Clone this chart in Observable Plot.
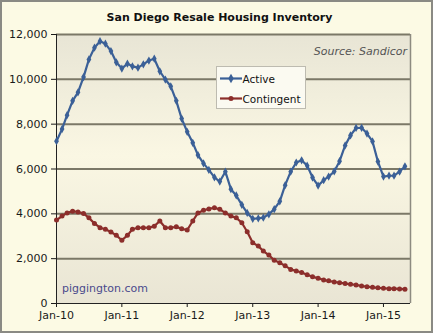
<!DOCTYPE html>
<html><head><meta charset="utf-8">
<script src="https://cdn.jsdelivr.net/npm/d3@7"></script>
<script src="https://cdn.jsdelivr.net/npm/@observablehq/plot@0.6"></script>
<style>
html,body{margin:0;padding:0;background:#fff;}
#wrap{position:relative;width:433px;height:333px;background:#fcfae4;font-family:"DejaVu Sans",Verdana,sans-serif;overflow:hidden;}
#wrap svg.plot{position:absolute;left:0;top:0;}
#border{position:absolute;left:0;top:0;width:433px;height:333px;box-sizing:border-box;border:2px solid #8a8a84;pointer-events:none;}
#title{position:absolute;left:3px;width:433px;top:11px;line-height:13px;text-align:center;font-weight:bold;font-size:11px;color:#111;}
#source{position:absolute;right:26px;top:45px;line-height:13px;font-style:italic;font-size:11px;color:#555;}
#credit{position:absolute;left:62px;top:282px;line-height:13px;font-size:11px;color:#4a4a8c;}
#legend{position:absolute;left:216px;top:66px;}
</style>
</head><body>
<div id="wrap">
  <div id="chart"></div>
  <div id="title">San Diego Resale Housing Inventory</div>
  <div id="source">Source: Sandicor</div>
  <div id="credit">piggington.com</div>
  <svg id="legend" width="91" height="43"></svg>
  <div id="border"></div>
</div>
<script>
// ---- data (monthly, Jan-2010 .. May-2015) ----
const startMonth = "2010-01";
const active = [7240,7780,8400,9040,9420,10100,10890,11410,11700,11590,
  11260,10760,10480,10700,10580,10520,10670,10840,10920,10360,
  9990,9690,9040,8250,7660,7170,6620,6250,5960,5630,
  5440,5880,5100,4820,4400,4040,3780,3800,3830,3980,
  4210,4560,5280,5880,6290,6390,6150,5620,5260,5500,
  5660,5890,6350,7050,7500,7830,7840,7580,7230,6330,
  5660,5700,5700,5880,6120];
const contingent = [3720,3900,4040,4120,4080,4020,3820,3570,3380,3310,
  3190,3040,2820,3040,3310,3380,3380,3380,3450,3680,
  3380,3380,3420,3330,3280,3680,4040,4160,4220,4270,
  4200,4040,3900,3820,3600,3200,2710,2560,2340,2160,
  1930,1820,1680,1520,1450,1380,1280,1190,1130,1050,
  1010,960,930,890,860,830,780,750,720,700,
  680,660,660,650,640];
const seriesNames = ["Active", "Contingent"];
const xTickLabels = ["Jan-10","Jan-11","Jan-12","Jan-13","Jan-14","Jan-15"];
const yTicks = [0,2000,4000,6000,8000,10000,12000];

const blue = "#3b6097", red = "#8c2e2b";
const parseMonth = d3.utcParse("%Y-%m");
const parseTick = d3.utcParse("%b-%y");
const t0 = parseMonth(startMonth);
const dates = active.map((_, i) => d3.utcMonth.offset(t0, i));
const rows = dates.map((date, i) => ({date, active: active[i], contingent: contingent[i]}));
const xTicks = xTickLabels.map(parseTick);
const xStart = t0, xEnd = d3.utcMonth.offset(t0, active.length);

const plot = Plot.plot({
  width: 433, height: 333,
  marginLeft: 56, marginRight: 23, marginTop: 34, marginBottom: 30,
  style: {background: "transparent", fontFamily: "'DejaVu Sans', Verdana, sans-serif", fontSize: "11px", color: "#1a1a1a"},
  x: {type: "utc", domain: [xStart, xEnd], ticks: xTicks, tickFormat: d => xTickLabels[xTicks.findIndex(t => +t === +d)], tickSize: 4, tickPadding: 3.5, label: null},
  y: {domain: [0, 12000], ticks: yTicks, tickFormat: d3.format(","), tickSize: 5, tickPadding: 4, label: null},
  marks: [
    Plot.frame({fill: "url(#plotbg)", stroke: "none"}),
    Plot.ruleY(yTicks.filter(d => d > 0), {stroke: "#7b7867", strokeWidth: 2}),
    Plot.ruleX([xEnd], {stroke: "#8d8b80", strokeWidth: 1.5}),
    Plot.ruleX([xStart], {stroke: "#222", strokeWidth: 1}),
    Plot.ruleY([0], {stroke: "#222", strokeWidth: 1}),
    Plot.line(rows, {x: "date", y: "contingent", stroke: red, strokeWidth: 2.2}),
    Plot.dot(rows, {x: "date", y: "contingent", r: 2.5, fill: red, stroke: "none"}),
    Plot.line(rows, {x: "date", y: "active", stroke: blue, strokeWidth: 2.2}),
    Plot.dot(rows, {x: "date", y: "active", symbol: "diamond", r: 2.5, fill: blue, stroke: "none"})
  ]
});
plot.classList.add("plot");
d3.select(plot).insert("defs", ":first-child").html(
  '<linearGradient id="plotbg" x1="0" y1="0" x2="0" y2="1">' +
  '<stop offset="0" stop-color="#e8e5d5"/><stop offset="0.45" stop-color="#faf7e3"/>' +
  '<stop offset="1" stop-color="#e9e5d4"/></linearGradient>');
document.getElementById("chart").appendChild(plot);

// legend
const lg = d3.select("#legend");
lg.append("rect").attr("x", 0.5).attr("y", 0.5).attr("width", 89).attr("height", 42)
  .attr("fill", "#fbfaf1").attr("stroke", "#bdbbb0");
const colors = [blue, red];
const syms = [d3.symbolDiamond, d3.symbolCircle];
seriesNames.forEach((name, i) => {
  const y = 12.5 + i * 20;
  lg.append("line").attr("x1", 4).attr("x2", 26).attr("y1", y).attr("y2", y)
    .attr("stroke", colors[i]).attr("stroke-width", 2.2);
  lg.append("path").attr("d", d3.symbol(syms[i], i === 0 ? 26 : 20)())
    .attr("transform", `translate(15,${y})`).attr("fill", colors[i]);
  lg.append("text").attr("x", 26.5).attr("y", y + 4).text(name)
    .attr("font-size", "10.5px").attr("font-family", "'DejaVu Sans', Verdana, sans-serif").attr("fill", "#111");
});
</script>
</body></html>
